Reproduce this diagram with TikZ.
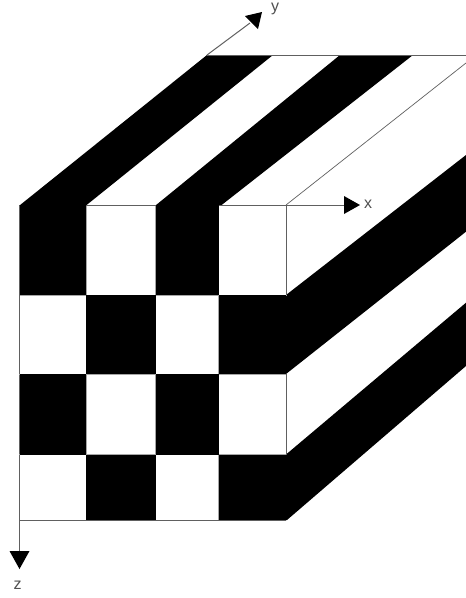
\documentclass[tikz,border=0pt]{standalone}
\usepackage{fontspec}
\setmainfont{Liberation Sans}
\definecolor{edgegray}{HTML}{606060}
\definecolor{labelgray}{HTML}{505050}
\tikzset{
  x=1pt,y=-1pt,
  blk/.style={fill=black,draw=none},
  thin line/.style={draw=edgegray,line width=1pt},
  cell line/.style={draw=gray!70,line width=0.8pt},
  axis/.style={draw=edgegray,line width=1pt},
  tip/.style={fill=black,draw=none},
  axlabel/.style={font=\fontsize{16}{16}\selectfont,text=labelgray,inner sep=0pt}
}
\begin{document}
\begin{tikzpicture}
\useasboundingbox (0,0) rectangle (466,598);
\fill[white] (0,0) rectangle (466,598);
% named corners
\coordinate (O) at (19.5,205);
\coordinate (Oy) at (207,55);
\coordinate (C) at (286,205);
\coordinate (Cy) at (466,63);
\coordinate (TR) at (466,55);
\coordinate (BL) at (19.5,520);
\coordinate (BR) at (286,520);
\coordinate (xEnd) at (344,205);
\coordinate (yEnd) at (250,23);
\coordinate (zEnd) at (19.5,551);
% axes, lying under the black fields
\draw[axis] (O) -- (xEnd);
\draw[axis] (O) -- (zEnd);
\draw[axis] (Oy) -- (yEnd);
% top face stripes
\fill[blk] (19.5,205.5) -- (207,55) -- (273,55) -- (86,205.5) -- cycle;
\fill[blk] (155.5,205.5) -- (340,55) -- (413,55) -- (221,205.5) -- (218.5,205.5) -- cycle;
% right face stripes
\fill[blk] (285,295) -- (286,295) -- (466,155) -- (466,231.7) -- (286,374) -- (285,374) -- cycle;
\fill[blk] (285,454.5) -- (286,454.5) -- (466,302.7) -- (466,366) -- (287,520) -- (285,520) -- cycle;
% light cell edges of white cells
\draw[cell line] (86,205) rectangle (155.5,295);
\draw[cell line] (218.5,205) rectangle (286,295);
\draw[cell line] (19.5,295) rectangle (86,374);
\draw[cell line] (155.5,295) rectangle (218.5,374);
\draw[cell line] (86,374) rectangle (155.5,454.5);
\draw[cell line] (218.5,374) rectangle (286,454.5);
\draw[cell line] (19.5,454.5) rectangle (86,520);
\draw[cell line] (155.5,454.5) rectangle (218.5,520);
% front face cells
\fill[blk] (19.5,205) rectangle (86,295);
\fill[blk] (155.5,205) rectangle (218.5,295);
\fill[blk] (86,295) rectangle (155.5,374);
\fill[blk] (218.5,295) rectangle (286,374);
\fill[blk] (19.5,374) rectangle (86,454.5);
\fill[blk] (155.5,374) rectangle (218.5,454.5);
\fill[blk] (86,454.5) rectangle (155.5,520);
\fill[blk] (218.5,454.5) rectangle (286,520);
% outlines
\draw[thin line] (Oy) -- (TR);
\draw[thin line] (BL) -- (BR);
\draw[thin line] (86,205) -- (155.5,205);
\draw[thin line] (218.5,205) -- (xEnd);
\draw[thin line] (19.5,295) -- (19.5,374);
\draw[thin line] (19.5,454.5) -- (zEnd);
\draw[thin line] (C) -- (286,295);
\draw[thin line] (286,374) -- (286,454.5);
\draw[draw=edgegray,line width=0.7pt] (C) -- (Cy);
% arrowheads
\fill[tip] (360,205) -- (344,196) -- (344,214) -- cycle;
\fill[tip] (19.5,569) -- (9.5,551) -- (29.5,551) -- cycle;
\fill[tip] (262,12) -- (245,16) -- (258,29) -- cycle;
\node[axlabel] (xl) at (368,204.5) {x};
\node[axlabel] (yl) at (275,9) {y};
\node[axlabel] (zl) at (17.5,585) {z};
\end{tikzpicture}
\end{document}
